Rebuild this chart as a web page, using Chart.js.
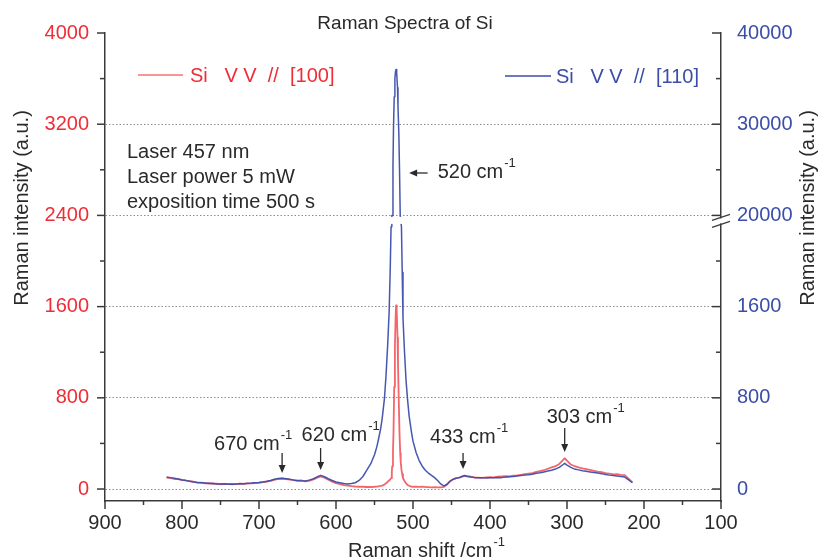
<!DOCTYPE html>
<html>
<head>
<meta charset="utf-8">
<script src="https://cdn.jsdelivr.net/npm/chart.js@4.4.1/dist/chart.umd.min.js"></script>
<style>
	html, body { margin: 0; padding: 0; background: #fff; }
	#wrap { width: 820px; height: 560px; }
</style>
</head>
<body>
<div id="wrap"><canvas id="myChart" width="820" height="560"></canvas></div>
<script>
// Raman shift (cm-1), both spectra read at the same positions
const shift = [
	820, 815, 810, 805, 800, 795, 790, 785, 780, 775,
	770, 765, 760, 755, 750, 745, 740, 735, 730, 725,
	720, 715, 710, 705, 700, 695, 690, 685, 680, 675,
	670, 665, 660, 655, 650, 645, 640, 635, 630, 625,
	620, 615, 610, 605, 600, 595, 590, 585, 580, 575,
	570, 565, 560, 555, 550, 547, 545, 542, 540, 537,
	535, 533, 531, 529.5, 528.5, 527.5, 527, 526, 525.3, 524.4,
	523.5, 522.7, 522, 521.2, 520.1, 519.5, 518.4, 517.5, 516.6, 516,
	515, 514, 513, 511, 509, 507, 505, 502, 500, 496,
	492, 488, 484, 480, 476, 472, 468, 464, 460, 456,
	452, 448, 444, 440, 436, 433, 430, 425, 420, 415,
	410, 405, 400, 395, 390, 385, 380, 375, 370, 365,
	360, 355, 350, 345, 340, 335, 330, 325, 320, 315,
	310, 305, 303, 300, 295, 290, 285, 280, 275, 270,
	265, 260, 255, 250, 245, 240, 235, 230, 225, 220,
	215
]

// Si VV // [100]  (red, left axis)
const siVV100 = [
	100, 96, 88, 86, 80, 74, 70, 64, 56, 57,
	50, 51, 45, 48, 42, 44, 46, 40, 46, 44,
	47, 48, 50, 53, 55, 60, 64, 72, 80, 88,
	92, 88, 82, 80, 72, 75, 68, 72, 82, 98,
	110, 100, 82, 65, 52, 42, 35, 30, 25, 22,
	20, 20, 18, 18, 20, 22, 24, 27, 30, 40,
	50, 62, 75, 85, 95, 150, 200, 330, 500, 895,
	1250, 1480, 1610, 1570, 1330, 1100, 755, 480, 315, 240,
	170, 130, 95, 70, 50, 36, 28, 22, 20, 20,
	18, 20, 18, 17, 15, 16, 15, 15, 18, 40,
	65, 85, 95, 100, 108, 115, 112, 108, 102, 100,
	98, 102, 105, 103, 108, 110, 112, 110, 118, 120,
	125, 130, 135, 140, 150, 158, 165, 178, 190, 200,
	220, 255, 270, 250, 215, 200, 190, 182, 175, 168,
	160, 152, 148, 140, 135, 128, 130, 125, 122, 90,
	58
]

// Si VV // [110]  (blue, right broken axis)
const siVV110 = [
	105, 100, 95, 88, 80, 76, 68, 62, 58, 55,
	52, 48, 50, 45, 44, 46, 42, 45, 43, 48,
	45, 50, 52, 55, 58, 62, 68, 75, 85, 92,
	95, 90, 85, 78, 75, 72, 70, 78, 88, 105,
	120, 108, 90, 75, 62, 55, 48, 45, 48, 55,
	75, 110, 165, 220, 300, 370, 430, 530, 620, 800,
	1000, 1250, 1550, 1950, 2300, 10000, 20000, 25500, 29700, 33000,
	35000, 35800, 36000, 35600, 34000, 32000, 29000, 25000, 20000, 9000,
	2300, 1900, 1500, 1200, 950, 780, 640, 500, 420, 320,
	250, 200, 165, 140, 120, 100, 75, 45, 28, 40,
	70, 85, 95, 100, 112, 118, 112, 105, 100, 98,
	100, 96, 98, 100, 102, 100, 105, 108, 110, 115,
	118, 122, 125, 130, 138, 142, 150, 158, 165, 175,
	190, 215, 225, 210, 190, 175, 168, 160, 155, 150,
	145, 140, 135, 128, 122, 118, 115, 110, 105, 80,
	55
]

const xTicks = [100, 150, 200, 250, 300, 350, 400, 450, 500, 550, 600, 650, 700, 750, 800, 850, 900]
const leftTicks = [0, 400, 800, 1200, 1600, 2000, 2400, 2800, 3200, 3600, 4000]
const rightTicks = [0, 400, 800, 1200, 1600, 2000, 20000, 25000, 30000, 35000, 40000]
const rightLabels = [0, 800, 1600, 20000, 30000, 40000]

const FONT = '"Liberation Sans", Arial, Helvetica, sans-serif'
const RED = 'rgb(238, 45, 55)'
const BLUE = 'rgb(58, 78, 168)'
const AXIS = '#3a3a3a'
const INK = '#2a2a2a'

Chart.defaults.font.family = FONT
Chart.defaults.font.size = 20

// right axis: 0..2400 linear like the left one, then a break, then 20000..40000
const BREAK_LO = 2400
const BREAK_HI = 20000
const UPPER_SPAN = 1600

function squash(v) {
	if (v <= BREAK_LO) return v
	if (v < BREAK_HI) return BREAK_LO
	return BREAK_LO + (v - BREAK_HI) * UPPER_SPAN / 20000
}
function unsquash(t) {
	if (t <= BREAK_LO) return t
	return BREAK_HI + (t - BREAK_LO) * 20000 / UPPER_SPAN
}

class BrokenScale extends Chart.LinearScale {
	getPixelForValue(value) {
		const a = squash(this.min), b = squash(this.max)
		return this.getPixelForDecimal((squash(value) - a) / (b - a))
	}
	getValueForPixel(pixel) {
		const a = squash(this.min), b = squash(this.max)
		return unsquash(a + this.getDecimalForPixel(pixel) * (b - a))
	}
}
BrokenScale.id = 'broken'
BrokenScale.defaults = Chart.LinearScale.defaults
Chart.register(BrokenScale)

function line(ctx, x1, y1, x2, y2) {
	ctx.beginPath()
	ctx.moveTo(x1, y1)
	ctx.lineTo(x2, y2)
	ctx.stroke()
}

// text followed by a small raised "-1"
function cmText(ctx, text, x, y) {
	ctx.font = '20px ' + FONT
	ctx.textAlign = 'left'
	ctx.textBaseline = 'alphabetic'
	ctx.fillText(text, x, y)
	const w = ctx.measureText(text).width
	ctx.font = '13px ' + FONT
	ctx.fillText('-1', x + w + 1, y - 11)
}

function arrow(ctx, x1, y1, x2, y2) {
	const ang = Math.atan2(y2 - y1, x2 - x1)
	const hl = 8, hw = 3.5
	ctx.lineWidth = 1.3
	line(ctx, x1, y1, x2 - Math.cos(ang) * hl * 0.8, y2 - Math.sin(ang) * hl * 0.8)
	ctx.beginPath()
	ctx.moveTo(x2, y2)
	ctx.lineTo(x2 - Math.cos(ang) * hl + Math.sin(ang) * hw, y2 - Math.sin(ang) * hl - Math.cos(ang) * hw)
	ctx.lineTo(x2 - Math.cos(ang) * hl - Math.sin(ang) * hw, y2 - Math.sin(ang) * hl + Math.cos(ang) * hw)
	ctx.closePath()
	ctx.fill()
}

// peak marks: arrow x (cm-1), arrow tail/tip and text baseline on the left axis, text offset in px
const peakNames = ['670 cm', '620 cm', '433 cm', '303 cm']
const peakPos = [670, 620, 435, 303]
const peakTail = [316, 360, 316, 535]
const peakTip = [140, 167, 175, 325]
const peakText = [342, 421, 404, 579]
const peakDx = [-68, -19, -33, -18]

const decor = {
	id: 'decor',
	afterDatasetsDraw(chart) {
		const { ctx, chartArea: a, scales } = chart
		const yb = scales.y2.getPixelForValue(BREAK_HI)
		ctx.save()
		ctx.fillStyle = '#fff'
		ctx.fillRect(a.left + 1, yb + 1.5, a.right - a.left - 2, 7)
		ctx.restore()
	},
	afterDraw(chart) {
		const { ctx, chartArea: a, scales } = chart
		const sx = scales.x, sy = scales.y, sy2 = scales.y2
		ctx.save()

		// tick marks
		ctx.strokeStyle = AXIS
		ctx.lineWidth = 1.5
		xTicks.forEach(v => {
			const px = sx.getPixelForValue(v)
			line(ctx, px, a.bottom, px, a.bottom + (v % 100 ? 4 : 8))
		})
		leftTicks.forEach(v => {
			const py = sy.getPixelForValue(v)
			line(ctx, a.left - (v % 800 ? 5 : 8), py, a.left, py)
		})
		rightTicks.forEach(v => {
			const py = sy2.getPixelForValue(v)
			line(ctx, a.right - (rightLabels.includes(v) ? 9 : 5), py, a.right, py)
		})

		// break mark on the right axis
		const yb = sy2.getPixelForValue(BREAK_HI)
		ctx.fillStyle = '#fff'
		ctx.fillRect(a.right - 2, yb + 3, 4, 5)
		ctx.lineWidth = 1.3
		line(ctx, a.right - 9, yb + 5, a.right + 9, yb - 1)
		line(ctx, a.right - 9, yb + 12, a.right + 9, yb + 6)

		// title
		ctx.fillStyle = INK
		ctx.font = '19px ' + FONT
		ctx.textAlign = 'center'
		ctx.textBaseline = 'alphabetic'
		ctx.fillText('Raman Spectra of Si', 405, 29)

		// axis titles, both read bottom to top
		ctx.font = '20px ' + FONT
		;[22, 808].forEach(tx => {
			ctx.save()
			ctx.translate(tx, a.top + 175)
			ctx.rotate(-Math.PI / 2)
			ctx.fillStyle = INK
			ctx.textAlign = 'center'
			ctx.textBaseline = 'middle'
			ctx.fillText('Raman intensity (a.u.)', 0, 0)
			ctx.restore()
		})
		ctx.fillStyle = INK
		cmText(ctx, 'Raman shift /cm', 348, 557)

		// legend
		ctx.lineWidth = 1.6
		ctx.strokeStyle = 'rgba(240, 90, 95, 0.85)'
		line(ctx, 138, 75, 183, 75)
		ctx.strokeStyle = BLUE
		line(ctx, 505, 76, 551, 76)
		ctx.font = '20px ' + FONT
		ctx.textAlign = 'left'
		ctx.textBaseline = 'middle'
		ctx.fillStyle = RED
		ctx.fillText('Si   V V  //  [100]', 190, 76)
		ctx.fillStyle = BLUE
		ctx.fillText('Si   V V  //  [110]', 556, 77)

		// measurement notes
		ctx.fillStyle = INK
		ctx.textBaseline = 'alphabetic'
		ctx.fillText('Laser 457 nm', 127, 158)
		ctx.fillText('Laser power 5 mW', 127, 183)
		ctx.fillText('exposition time 500 s', 127, 208)

		// 520 cm-1 arrow
		ctx.strokeStyle = INK
		ctx.fillStyle = INK
		arrow(ctx, sx.getPixelForValue(481), sy.getPixelForValue(2772), sx.getPixelForValue(505), sy.getPixelForValue(2772))
		cmText(ctx, '520 cm', sx.getPixelForValue(468), sy.getPixelForValue(2728))

		// small peaks
		peakNames.forEach((name, i) => {
			const px = sx.getPixelForValue(peakPos[i])
			arrow(ctx, px, sy.getPixelForValue(peakTail[i]), px, sy.getPixelForValue(peakTip[i]))
			cmText(ctx, name, px + peakDx[i], sy.getPixelForValue(peakText[i]))
		})

		ctx.restore()
	}
}

const ctx = document.getElementById('myChart')
const chart = new Chart(ctx, {
	type: 'line',
	data: {
		datasets: [{
			label: 'Si VV // [110]',
			data: shift.map((x, i) => ({ x: x, y: siVV110[i] })),
			yAxisID: 'y2',
			borderColor: 'rgba(60, 78, 172, 0.95)',
			borderWidth: 1.5,
			borderJoinStyle: 'round',
			pointRadius: 0,
			tension: 0,
			fill: false
		}, {
			label: 'Si VV // [100]',
			data: shift.map((x, i) => ({ x: x, y: siVV100[i] })),
			yAxisID: 'y',
			borderColor: 'rgba(240, 75, 82, 0.85)',
			borderWidth: 1.8,
			borderJoinStyle: 'round',
			pointRadius: 0,
			tension: 0,
			fill: false
		}]
	},
	options: {
		responsive: false,
		animation: false,
		devicePixelRatio: 1,
		layout: { padding: { top: 33, left: 0, right: 0, bottom: 0 } },
		plugins: {
			legend: { display: false },
			tooltip: { enabled: false }
		},
		scales: {
			x: {
				type: 'linear',
				reverse: true,
				min: 100,
				max: 900,
				afterBuildTicks: s => { s.ticks = xTicks.map(v => ({ value: v })) },
				afterFit: s => { s.height = 59 },
				grid: { drawOnChartArea: false, drawTicks: false },
				border: { display: true, color: AXIS, width: 1.5 },
				ticks: {
					autoSkip: false,
					maxRotation: 0,
					padding: 10,
					color: INK,
					font: { size: 20 },
					callback: v => (v % 100 === 0 ? v : '')
				}
			},
			y: {
				type: 'linear',
				position: 'left',
				min: -105,
				max: 4000,
				afterBuildTicks: s => { s.ticks = leftTicks.map(v => ({ value: v })) },
				afterFit: s => { s.width = 105 },
				grid: {
					drawTicks: false,
					lineWidth: 1,
					color: c => (c.tick && c.tick.value % 800 === 0 && c.tick.value < 4000 ? 'rgba(130, 130, 130, 0.9)' : 'rgba(0, 0, 0, 0)')
				},
				border: { display: true, color: AXIS, width: 1.5, dash: [1.5, 2] },
				ticks: {
					autoSkip: false,
					padding: 16,
					color: RED,
					font: { size: 20 },
					callback: v => (v % 800 === 0 ? v : '')
				}
			},
			y2: {
				type: 'broken',
				position: 'right',
				min: -105,
				max: 40000,
				afterBuildTicks: s => { s.ticks = rightTicks.map(v => ({ value: v })) },
				afterFit: s => { s.width = 99 },
				grid: { drawOnChartArea: false, drawTicks: false },
				border: { display: true, color: AXIS, width: 1.5 },
				ticks: {
					autoSkip: false,
					padding: 16,
					color: BLUE,
					font: { size: 20 },
					callback: v => (rightLabels.includes(v) ? v : '')
				}
			}
		}
	},
	plugins: [decor]
})
</script>
</body>
</html>
